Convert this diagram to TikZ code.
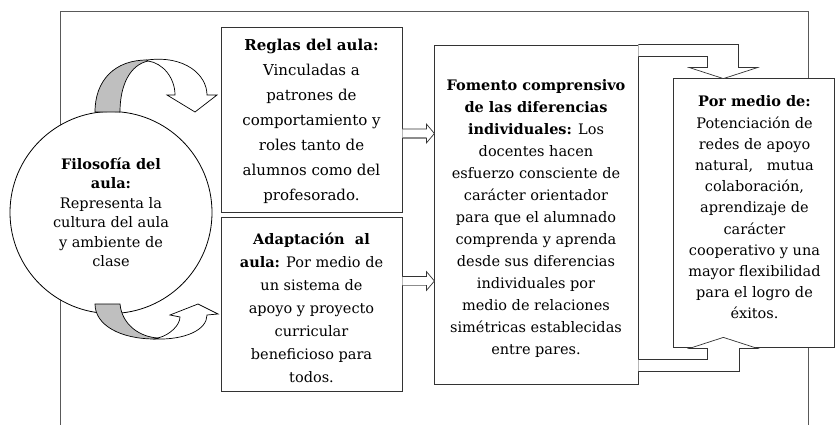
\documentclass[tikz,border=0pt]{standalone}
\usepackage{fontspec}
\setmainfont{DejaVu Serif}
\usetikzlibrary{calc}
\begin{document}
\begin{tikzpicture}[x=1pt,y=-1pt,
  frame/.style={draw=black!65, line width=0.8pt},
  box/.style={draw=black!80, line width=0.8pt, fill=white, inner sep=0pt},
  txt/.style={align=center, inner sep=0pt},
  barrow/.style={draw=black!80, line width=0.7pt, fill=white, line join=miter},
  cwhite/.style={draw=black, line width=0.7pt, fill=white, line join=miter},
  cgray/.style={draw=black, line width=0.7pt, fill=black!25}]
\useasboundingbox (0,0) rectangle (835,425);
% outer frame
\draw[frame] (60,425) -- (60,11) -- (808,11) -- (808,425);
% circle
\node[circle, draw=black, line width=0.8pt, fill=white, minimum size=202, inner sep=0pt, align=center,
      font=\fontsize{14.5}{19.5}\selectfont] (filo) at (111,212.5)
  {\textbf{Filosofía del}\\ \textbf{aula:}\\ Representa la\\ cultura del aula\\ y ambiente de\\ clase};
% top curved arrow
\draw[cgray] (95,112) .. controls (95,80) and (115,60) .. (147,60) -- (148,61)
  .. controls (130,65) and (120,85) .. (120,112) -- cycle;
\draw[cwhite] (148,61) .. controls (163,63) and (175,78) .. (175,95) -- (167,95) -- (195,112)
  -- (217,95) -- (207,95) .. controls (207,75) and (185,55) .. (147,60) -- cycle;
% bottom curved arrow
\draw[cgray] (95,304) -- (120,304) .. controls (122,325) and (140,337) .. (158,338) -- (155,339)
  .. controls (120,339) and (95,325) .. (95,304) -- cycle;
\draw[cwhite] (158,338) .. controls (170,335) and (180,325) .. (180,317) -- (170,315) -- (198,304)
  -- (218,314) -- (207,315) .. controls (207,330) and (185,340) .. (155,339) -- cycle;
% boxes
\node[box, minimum width=181, minimum height=185] (reglas) at (311.5,119.5) {};
\node[txt, font=\fontsize{15}{25}\selectfont] (reglasT) at (311.5,121.5)
  {\textbf{Reglas del aula:}\\ Vinculadas a\\ patrones de\\ comportamiento y\\ roles tanto de\\ alumnos como del\\ profesorado.};
\node[box, minimum width=181, minimum height=174] (adapt) at (311.5,304) {};
\node[txt, font=\fontsize{14.5}{23}\selectfont] (adaptT) at (311.5,308)
  {\textbf{Adaptación~ al}\\ \textbf{aula:} Por medio de\\ un sistema de\\ apoyo y proyecto\\ curricular\\ beneficioso para\\ todos.};
\node[box, minimum width=204, minimum height=339] (fomento) at (536,214.5) {};
\node[txt, font=\fontsize{14.5}{22}\selectfont] (fomentoT) at (536,218.5)
  {\textbf{Fomento comprensivo}\\ \textbf{de las diferencias}\\ \textbf{individuales:} Los\\ docentes hacen\\ esfuerzo consciente de\\ carácter orientador\\ para que el alumnado\\ comprenda y aprenda\\ desde sus diferencias\\ individuales por\\ medio de relaciones\\ simétricas establecidas\\ entre pares.};
\node[box, minimum width=161, minimum height=269] (pormedio) at (753.5,212.5) {};
\node[txt, font=\fontsize{14.5}{21.2}\selectfont] (pormedioT) at (754.5,207.5)
  {\textbf{Por medio de:}\\ Potenciación de\\ redes de apoyo\\ natural,~~ mutua\\ colaboración,\\ aprendizaje de\\ carácter\\ cooperativo y una\\ mayor flexibilidad\\ para el logro de\\ éxitos.};
% block arrows
\draw[barrow] ($(reglas.east)+(0,9.5)$) -- ++(24,0) -- ++(0,-5) -- ++(8,9.5) -- ++(-8,9.5) -- ++(0,-5) -- ++(-24,0);
\draw[black!45, line width=1.4pt] ($(reglas.east)+(0.5,18.5)$) -- ++(23,0);
\draw[barrow] ($(adapt.east)+(0,-27.5)$) -- ++(24,0) -- ++(0,-5) -- ++(8,9.5) -- ++(-8,9.5) -- ++(0,-5) -- ++(-24,0);
\draw[black!45, line width=1.4pt] ($(adapt.east)+(0.5,-18.5)$) -- ++(23,0);
% bent arrows to the last box
\draw[barrow] (fomento.north east) -- ++(100,0) -- ++(0,23) -- ++(19,0) -- ++(-34,11) -- ++(-34,-11)
  -- ++(18,0) -- ++(0,-11) -- ($(fomento.north east)+(0,12)$);
\draw[barrow] ($(fomento.south east)+(0,-13)$) -- ++(101,0) -- ++(0,-23) -- ++(18,0) -- ++(-34,-11)
  -- ++(-34,11) -- ++(18,0) -- ++(0,11) -- ($(fomento.south east)+(0,-25)$);
\end{tikzpicture}
\end{document}
